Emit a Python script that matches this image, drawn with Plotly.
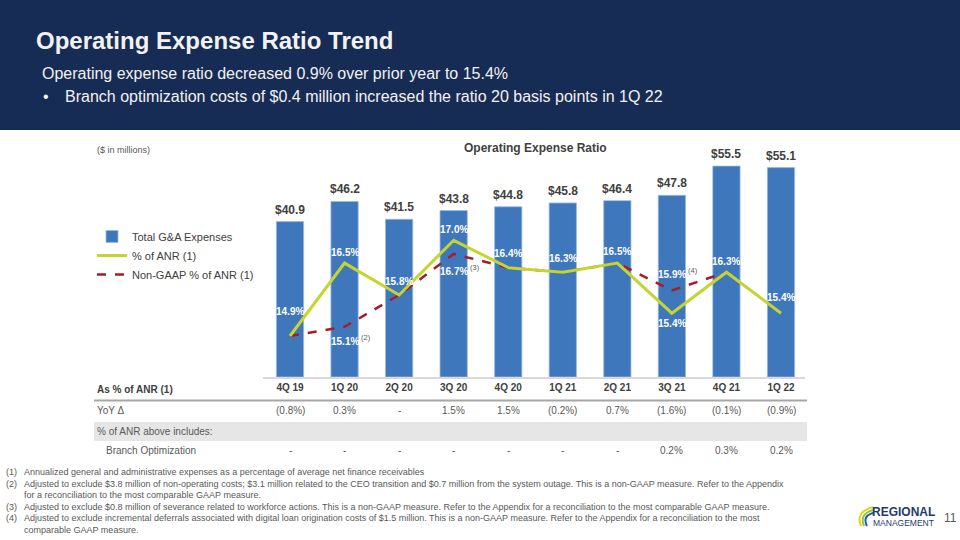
import plotly.graph_objects as go

# ---------------- data ----------------
quarters = ["4Q 19", "1Q 20", "2Q 20", "3Q 20", "4Q 20", "1Q 21", "2Q 21", "3Q 21", "4Q 21", "1Q 22"]
ga_expenses = [40.9, 46.2, 41.5, 43.8, 44.8, 45.8, 46.4, 47.8, 55.5, 55.1]
pct_anr = [14.9, 16.5, 15.8, 17.0, 16.4, 16.3, 16.5, 15.4, 16.3, 15.4]
non_gaap_pct_anr = [14.9, 15.1, 15.8, 16.7, 16.4, 16.3, 16.5, 15.9, 16.3, None]
non_gaap_labels = {1: "(2)", 3: "(3)", 7: "(4)"}   # quarters where non-GAAP differs
yoy_delta = ["(0.8%)", "0.3%", "-", "1.5%", "1.5%", "(0.2%)", "0.7%", "(1.6%)", "(0.1%)", "(0.9%)"]
branch_opt = ["-", "-", "-", "-", "-", "-", "-", "0.2%", "0.3%", "0.2%"]

footnotes = [
    ("(1)", "Annualized general and administrative expenses as a percentage of average net finance receivables"),
    ("(2)", "Adjusted to exclude $3.8 million of non-operating costs; $3.1 million related to the CEO transition and $0.7 million from the system outage. This is a non-GAAP measure. Refer to the Appendix"),
    ("", "for a reconciliation to the most comparable GAAP measure."),
    ("(3)", "Adjusted to exclude $0.8 million of severance related to workforce actions. This is a non-GAAP measure. Refer to the Appendix for a reconciliation to the most comparable GAAP measure."),
    ("(4)", "Adjusted to exclude incremental deferrals associated with digital loan origination costs of $1.5 million. This is a non-GAAP measure. Refer to the Appendix for a reconciliation to the most"),
    ("", "comparable GAAP measure."),
]

# ---------------- style ----------------
W, H = 960, 540
FONT = "Liberation Sans, Arial, sans-serif"
NAVY = "#172C54"
BAR = "#3F77BD"
GREEN = "#C5D431"
RED = "#A61E24"
DARK = "#404040"
GREY = "#595959"

def px(x):
    return x / W

def py(y):
    return 1 - y / H

# label offsets (pixels, positive = above point)
pct_shift = [25, 11, 13, 11, 14, 14, 12, -10, 11, 16]
ng_shift = {1: -15, 3: -18, 7: 16}

fig = go.Figure()
fig.add_trace(go.Bar(
    x=quarters, y=ga_expenses, name="Total G&A Expenses",
    marker=dict(color=BAR, line=dict(color="#9DB9DF", width=0.8)),
    width=0.5, legendrank=1,
))
fig.add_trace(go.Scatter(
    x=quarters, y=non_gaap_pct_anr, name="Non-GAAP % of ANR (1)", yaxis="y2",
    mode="lines", line=dict(color=RED, width=2.5, dash="dash"),
    legendrank=3, connectgaps=False,
))
fig.add_trace(go.Scatter(
    x=quarters, y=pct_anr, name="% of ANR (1)", yaxis="y2",
    mode="lines", line=dict(color=GREEN, width=3),
    legendrank=2,
))

ann = []
# bar labels
for q, v in zip(quarters, ga_expenses):
    ann.append(dict(x=q, y=v, xref="x", yref="y", text=f"${v:.1f}", showarrow=False,
                    yanchor="middle", yshift=12,
                    font=dict(family=FONT, size=12, color=DARK, weight="bold")))
# % of ANR labels
for i, (q, v) in enumerate(zip(quarters, pct_anr)):
    ann.append(dict(x=q, y=v, xref="x", yref="y2", text=f"{v:.1f}%", showarrow=False,
                    yanchor="middle", yshift=pct_shift[i],
                    font=dict(family=FONT, size=10, color="white", weight="bold")))
# non-GAAP labels
for i, mark in non_gaap_labels.items():
    v = non_gaap_pct_anr[i]
    ann.append(dict(x=quarters[i], y=v, xref="x", yref="y2", text=f"{v:.1f}%", showarrow=False,
                    yanchor="middle", yshift=ng_shift[i],
                    font=dict(family=FONT, size=10, color="white", weight="bold")))
    ann.append(dict(x=quarters[i], y=v, xref="x", yref="y2", text=mark, showarrow=False,
                    yanchor="middle", xanchor="left", yshift=ng_shift[i] + 4, xshift=14,
                    font=dict(family=FONT, size=7.5, color=GREY)))

# header texts
ann.append(dict(x=px(34), y=py(40), xref="paper", yref="paper", xanchor="left", yanchor="middle",
                text="Operating Expense Ratio Trend", showarrow=False,
                font=dict(family=FONT, size=24, color="#F2F2F2", weight="bold")))
ann.append(dict(x=px(40), y=py(73), xref="paper", yref="paper", xanchor="left", yanchor="middle",
                text="Operating expense ratio decreased 0.9% over prior year to 15.4%", showarrow=False,
                font=dict(family=FONT, size=16, color="#F2F2F2")))
ann.append(dict(x=px(41), y=py(96), xref="paper", yref="paper", xanchor="left", yanchor="middle",
                text="•", showarrow=False, font=dict(family=FONT, size=16, color="#F2F2F2")))
ann.append(dict(x=px(63), y=py(96), xref="paper", yref="paper", xanchor="left", yanchor="middle",
                text="Branch optimization costs of $0.4 million increased the ratio 20 basis points in 1Q 22",
                showarrow=False, font=dict(family=FONT, size=16, color="#F2F2F2")))

# chart titles
ann.append(dict(x=px(535), y=py(148), xref="paper", yref="paper", xanchor="center", yanchor="middle",
                text="Operating Expense Ratio", showarrow=False,
                font=dict(family=FONT, size=12, color=DARK, weight="bold")))
ann.append(dict(x=px(95), y=py(150), xref="paper", yref="paper", xanchor="left", yanchor="middle",
                text="($ in millions)", showarrow=False, font=dict(family=FONT, size=9, color=GREY)))

# table
ann.append(dict(x=px(95), y=py(389), xref="paper", yref="paper", xanchor="left", yanchor="middle",
                text="As % of ANR (1)", showarrow=False,
                font=dict(family=FONT, size=10, color=DARK, weight="bold")))
ann.append(dict(x=px(95), y=py(410), xref="paper", yref="paper", xanchor="left", yanchor="middle",
                text="YoY Δ", showarrow=False, font=dict(family=FONT, size=10, color=GREY)))
ann.append(dict(x=px(95), y=py(431), xref="paper", yref="paper", xanchor="left", yanchor="middle",
                text="% of ANR above includes:", showarrow=False, font=dict(family=FONT, size=10, color=GREY)))
ann.append(dict(x=px(104), y=py(450), xref="paper", yref="paper", xanchor="left", yanchor="middle",
                text="Branch Optimization", showarrow=False, font=dict(family=FONT, size=10, color=GREY)))
for q, a, b in zip(quarters, yoy_delta, branch_opt):
    ann.append(dict(x=q, y=py(410), xref="x", yref="paper", xanchor="center", yanchor="middle",
                    text=a, showarrow=False, font=dict(family=FONT, size=10, color=GREY)))
    ann.append(dict(x=q, y=py(450), xref="x", yref="paper", xanchor="center", yanchor="middle",
                    text=b, showarrow=False, font=dict(family=FONT, size=10, color=GREY)))

# footnotes
fy = [472, 484, 495, 507, 518, 530]
for (num, txt), y in zip(footnotes, fy):
    if num:
        ann.append(dict(x=px(4), y=py(y), xref="paper", yref="paper", xanchor="left", yanchor="middle",
                        text=num, showarrow=False, font=dict(family=FONT, size=9, color=GREY)))
    ann.append(dict(x=px(22), y=py(y), xref="paper", yref="paper", xanchor="left", yanchor="middle",
                    text=txt, showarrow=False, font=dict(family=FONT, size=9, color=GREY)))

# logo + page number
ann.append(dict(x=px(870), y=py(512), xref="paper", yref="paper", xanchor="left", yanchor="middle",
                text="REGIONAL", showarrow=False,
                font=dict(family="Liberation Sans Narrow, Liberation Sans, Arial", size=12, color="#1F3A6E", weight="bold")))
ann.append(dict(x=px(871), y=py(523), xref="paper", yref="paper", xanchor="left", yanchor="middle",
                text="MANAGEMENT", showarrow=False,
                font=dict(family="Liberation Sans Narrow, Liberation Sans, Arial", size=8.5, color="#1F3A6E")))
ann.append(dict(x=px(942), y=py(518), xref="paper", yref="paper", xanchor="left", yanchor="middle",
                text="11", showarrow=False, font=dict(family=FONT, size=12, color=GREY)))

shapes = [
    dict(type="rect", xref="paper", yref="paper", x0=0, x1=1, y0=py(130), y1=1,
         fillcolor=NAVY, line=dict(width=0), layer="below"),
    dict(type="rect", xref="paper", yref="paper", x0=px(94), x1=px(807), y0=py(441), y1=py(422),
         fillcolor="#E7E6E6", line=dict(width=0), layer="below"),
    dict(type="line", xref="paper", yref="paper", x0=px(94), x1=px(807), y0=py(400.5), y1=py(400.5),
         line=dict(color="#A6A6A6", width=2)),
]

def arc_path(pts):
    p = "M {:.5f},{:.5f} Q {:.5f},{:.5f} {:.5f},{:.5f}".format(
        px(pts[0][0]), py(pts[0][1]), px(pts[1][0]), py(pts[1][1]), px(pts[2][0]), py(pts[2][1]))
    return p

for pts, col in [
    (((873, 507), (855, 512), (861, 526)), "#E8D21C"),
    (((873, 510), (859, 514), (864, 526)), "#8DC63F"),
    (((873, 513), (862, 516), (867, 526)), "#1F5FA8"),
]:
    shapes.append(dict(type="path", xref="paper", yref="paper", path=arc_path(pts),
                       line=dict(color=col, width=2)))

fig.update_layout(
    width=W, height=H,
    margin=dict(l=0, r=0, t=0, b=0),
    paper_bgcolor="white", plot_bgcolor="white",
    showlegend=True,
    legend=dict(x=px(92), y=py(222), xanchor="left", yanchor="top",
                font=dict(family=FONT, size=11, color=DARK),
                bgcolor="rgba(0,0,0,0)", tracegroupgap=0, itemwidth=30),
    xaxis=dict(domain=[px(263), px(805)], type="category", range=[-0.495, 9.44],
               showline=True, linecolor="#D9D9D9", linewidth=1.5, showgrid=False, ticks="",
               tickfont=dict(family=FONT, size=10, color=DARK, weight="bold"), fixedrange=True),
    yaxis=dict(domain=[py(377), py(155)], range=[0, 58.42], visible=False, fixedrange=True),
    yaxis2=dict(overlaying="y", range=[14.0003, 18.872], visible=False, fixedrange=True),
    annotations=ann,
    shapes=shapes,
    bargap=0.5,
)

fig.write_html("out.html", config={"displayModeBar": False},
               post_script="document.body.style.margin='0px';document.body.style.padding='0px';")
